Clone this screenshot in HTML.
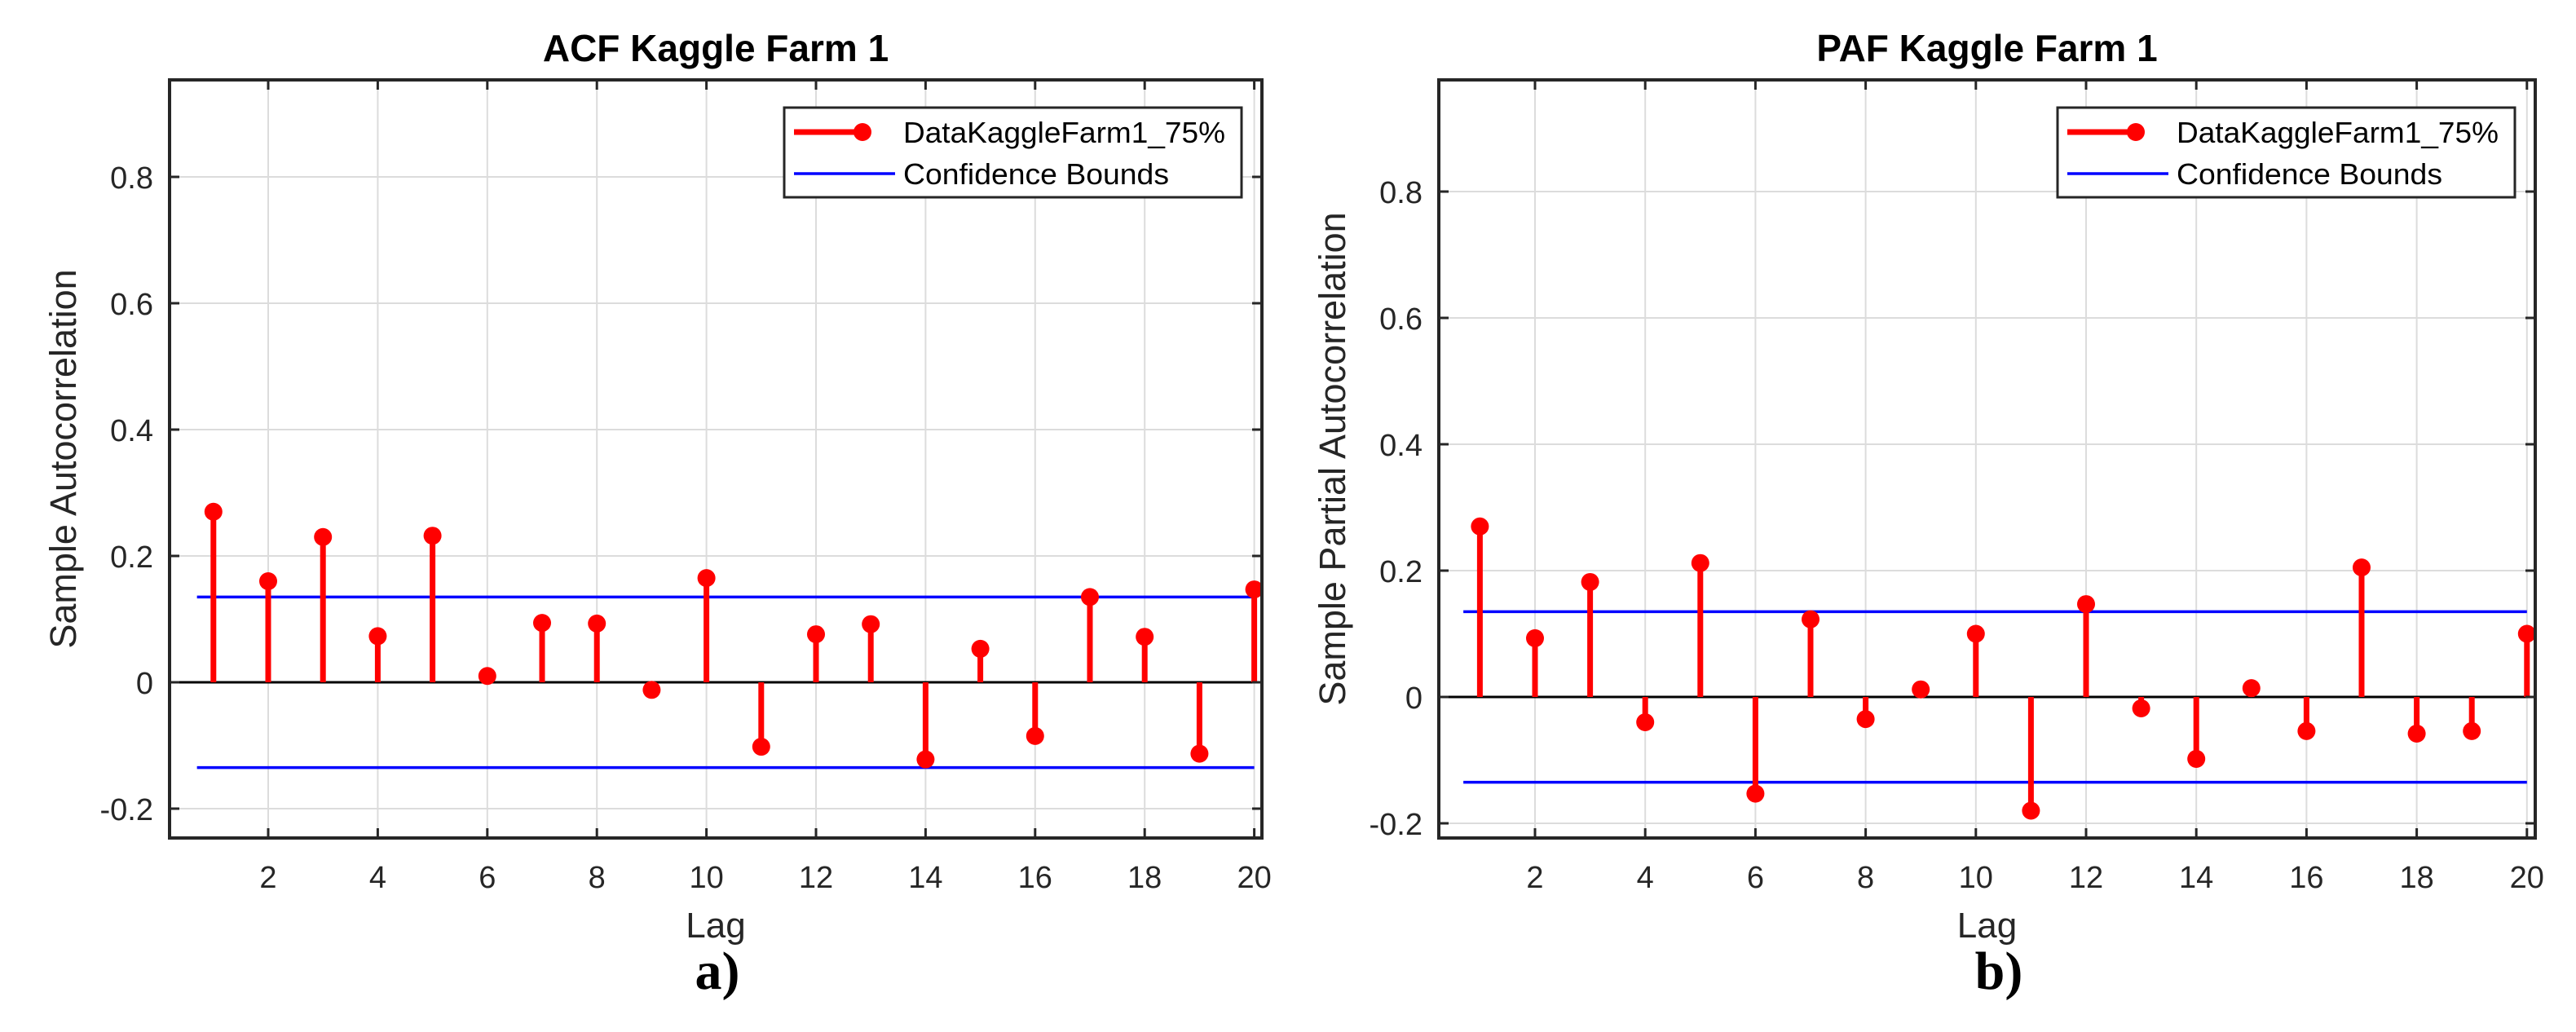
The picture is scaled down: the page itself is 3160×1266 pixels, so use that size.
<!DOCTYPE html>
<html><head><meta charset="utf-8"><style>
html,body{margin:0;padding:0;background:#fff;}
svg{display:block;}
text{font-family:"Liberation Sans",Arial,sans-serif;}
</style></head>
<body>
<svg id="fig" width="3160" height="1266" viewBox="0 0 3160 1266" xmlns="http://www.w3.org/2000/svg"></svg>
<script>
const lags = [1,2,3,4,5,6,7,8,9,10,11,12,13,14,15,16,17,18,19,20];
const acfValues = [0.27,0.16,0.23,0.073,0.232,0.01,0.094,0.093,-0.012,0.165,-0.102,0.076,0.092,-0.122,0.053,-0.085,0.135,0.072,-0.113,0.147];
const pacfValues = [0.27,0.093,0.182,-0.04,0.212,-0.153,0.123,-0.035,0.012,0.1,-0.18,0.147,-0.018,-0.098,0.014,-0.054,0.205,-0.058,-0.054,0.1];
const confBound = [0.135];
const xTicks = [2,4,6,8,10,12,14,16,18,20];
const yTicks = [-0.2,0,0.2,0.4,0.6,0.8];
const yTickLabels = ["-0.2","0","0.2","0.4","0.6","0.8"];
const seriesName = ["DataKaggleFarm1_75%"];

const NS="http://www.w3.org/2000/svg";
const svg=document.getElementById('fig');
function mk(tag,attrs,parent,txt){const e=document.createElementNS(NS,tag);for(const k in attrs)e.setAttribute(k,attrs[k]);if(txt!==undefined)e.textContent=txt;(parent||svg).appendChild(e);return e;}

function panel(cfg){
  const g=mk('g',{});
  
  
  const L=cfg.left,R=cfg.right,T=98,B=1028;
  const lag2=cfg.lag2, per=cfg.per, zeroY=cfg.zeroY, pxPer=775;
  const X=v=>lag2+(v-2)*per;
  const Y=v=>zeroY-v*pxPer;
  mk('rect',{x:L,y:T,width:R-L,height:B-T,fill:'#fff'},g);
  // grid
  xTicks.forEach(t=>{const l=mk('line',{x1:X(t),x2:X(t),y1:T,y2:B,stroke:'#dcdcdc','stroke-width':2},g);
    });
  yTicks.forEach(t=>{const l=mk('line',{x1:L,x2:R,y1:Y(t),y2:Y(t),stroke:'#dcdcdc','stroke-width':2},g);
    });
  // zero line
  const z=mk('line',{x1:L,x2:R,y1:Y(0),y2:Y(0),stroke:'#000','stroke-width':3},g);
  
  // bounds
  [confBound[0],-confBound[0]].forEach((b,i)=>{const l=mk('line',{x1:X(0.7),x2:X(20),y1:Y(b),y2:Y(b),stroke:'#0000ff','stroke-width':3.5},g);
    });
  // stems
  cfg.values.forEach((v,i)=>{
    const s=mk('line',{x1:X(lags[i]),x2:X(lags[i]),y1:Y(0),y2:Y(v),stroke:'#ff0000','stroke-width':7},g);
    
    const c=mk('circle',{cx:X(lags[i]),cy:Y(v),r:11,fill:'#ff0000'},g);
    
  });
  // box
  const bx=mk('rect',{x:L,y:T,width:R-L,height:B-T,fill:'none',stroke:'#262626','stroke-width':4},g);
  
  // ticks
  xTicks.forEach(t=>{mk('line',{x1:X(t),x2:X(t),y1:B,y2:B-12,stroke:'#262626','stroke-width':3},g);mk('line',{x1:X(t),x2:X(t),y1:T,y2:T+12,stroke:'#262626','stroke-width':3},g);
    const tl=mk('text',{x:X(t),y:1089,'font-size':38,'text-anchor':'middle',fill:'#262626'},g,String(t));
    });
  yTicks.forEach((t,i)=>{mk('line',{x1:L,x2:L+12,y1:Y(t),y2:Y(t),stroke:'#262626','stroke-width':3},g);mk('line',{x1:R,x2:R-12,y1:Y(t),y2:Y(t),stroke:'#262626','stroke-width':3},g);
    const tl=mk('text',{x:L-20,y:Y(t)+14,'font-size':38,'text-anchor':'end',fill:'#262626'},g,yTickLabels[i]);
    });
  // title
  const ti=mk('text',{x:(L+R)/2,y:75,'font-size':46,'font-weight':'bold','text-anchor':'middle',fill:'#000'},g,cfg.title);
  
  const xl=mk('text',{x:(L+R)/2,y:1150,'font-size':44,'text-anchor':'middle',fill:'#262626'},g,'Lag');
  
  const yl=mk('text',{x:0,y:0,'font-size':45,'text-anchor':'middle',fill:'#262626',transform:`translate(${L-115},563) rotate(-90)`},g,cfg.ylabel);
  
  const pl=mk('text',{x:cfg.labelX,y:1213,'font-size':66,'font-weight':'bold','text-anchor':'middle',fill:'#000',style:'font-family:"Liberation Serif",serif'},g,cfg.letter);
  
  // legend
  const lg=mk('g',{},g);
  
  const lx=R-586, ly=132;
  mk('rect',{x:lx,y:ly,width:561,height:110,fill:'#fff',stroke:'#262626','stroke-width':3},lg);
  const e1=mk('g',{},lg);
  mk('line',{x1:lx+12,x2:lx+96,y1:ly+30,y2:ly+30,stroke:'#ff0000','stroke-width':7},e1);
  mk('circle',{cx:lx+96,cy:ly+30,r:11,fill:'#ff0000'},e1);
  mk('text',{x:lx+146,y:ly+43,'font-size':36,fill:'#000',textLength:395,lengthAdjust:'spacingAndGlyphs'},e1,seriesName[0]);
  const e2=mk('g',{},lg);
  mk('line',{x1:lx+12,x2:lx+136,y1:ly+81,y2:ly+81,stroke:'#0000ff','stroke-width':3.5},e2);
  mk('text',{x:lx+146,y:ly+94,'font-size':36,fill:'#000',textLength:326,lengthAdjust:'spacingAndGlyphs'},e2,'Confidence Bounds');
}
panel({name:'acf-panel',left:208,right:1548,lag2:329,per:67.2,zeroY:837,values:acfValues,title:'ACF Kaggle Farm 1',ylabel:'Sample Autocorrelation',letter:'a)',labelX:880});
panel({name:'pacf-panel',left:1765,right:3110,lag2:1883,per:67.6,zeroY:855,values:pacfValues,title:'PAF Kaggle Farm 1',ylabel:'Sample Partial Autocorrelation',letter:'b)',labelX:2452});
</script>
</body></html>
